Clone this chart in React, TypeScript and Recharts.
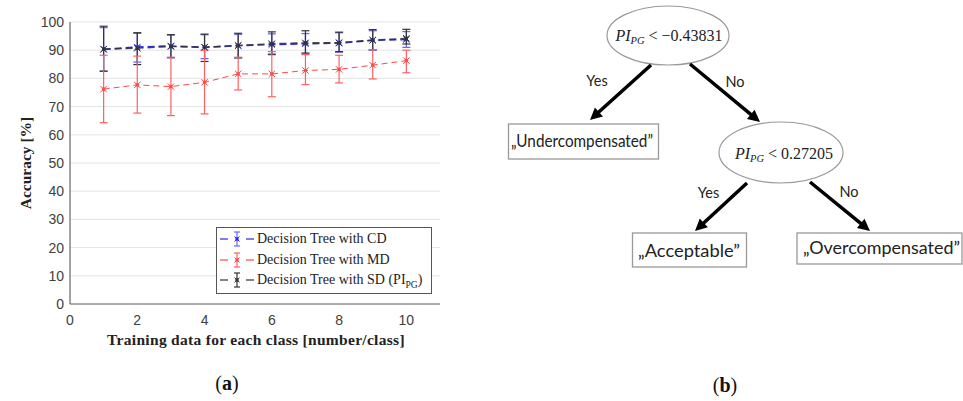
import React from 'react';
import {
  ComposedChart, Line, XAxis, YAxis, CartesianGrid, ErrorBar, Customized,
} from 'recharts';

// ---------- data ----------
const trainingCounts = [1, 2, 3, 4, 5, 6, 7, 8, 9, 10];

const cdMean = [90.3, 91.1, 91.5, 91.0, 91.6, 92.0, 92.3, 92.5, 93.5, 93.8];
const cdLow = [82.5, 85.8, 87.3, 87.0, 87.3, 88.4, 88.6, 89.3, 90.0, 91.0];
const cdHigh = [98.0, 96.0, 95.4, 95.5, 95.6, 95.8, 95.9, 96.2, 96.9, 96.6];

const mdMean = [76.2, 77.7, 77.1, 78.6, 81.6, 81.6, 82.8, 83.2, 84.7, 86.3];
const mdLow = [64.3, 67.7, 66.8, 67.4, 75.9, 73.5, 77.8, 78.4, 79.8, 82.0];
const mdHigh = [88.2, 87.9, 87.5, 90.0, 87.5, 89.5, 88.4, 88.2, 90.2, 90.0];

const sdMean = [90.4, 90.7, 91.3, 91.1, 91.7, 92.3, 92.6, 92.7, 93.6, 94.2];
const sdLow = [82.6, 84.9, 87.4, 86.0, 87.3, 88.6, 89.0, 89.5, 90.2, 92.2];
const sdHigh = [98.5, 96.2, 95.5, 95.7, 96.0, 96.5, 96.9, 96.4, 97.3, 97.4];

const xTicks = [0, 2, 4, 6, 8, 10];
const yTicks = [0, 10, 20, 30, 40, 50, 60, 70, 80, 90, 100];

const seriesNames = ['Decision Tree with CD', 'Decision Tree with MD', 'Decision Tree with SD'];

const treeRootCondition = '−0.43831';
const treeSecondCondition = '0.27205';
const treeLeaves = ['„Undercompensated”', '„Acceptable”', '„Overcompensated”'];

const data = trainingCounts.map((x, i) => ({
  x,
  cd: cdMean[i],
  cdErr: [cdMean[i] - cdLow[i], cdHigh[i] - cdMean[i]],
  md: mdMean[i],
  mdErr: [mdMean[i] - mdLow[i], mdHigh[i] - mdMean[i]],
  sd: sdMean[i],
  sdErr: [sdMean[i] - sdLow[i], sdHigh[i] - sdMean[i]],
}));

const BLUE = '#2a2ae0';
const BLUE_ERR = '#6a6aff';
const RED = '#ff4a4a';
const RED_ERR = '#ff6060';
const BLACK = '#333333';

const starDot = (color: string) => (props: any) => {
  const { cx, cy, index } = props;
  if (cx == null || cy == null) return <g key={`e-${index}`} />;
  const r = 3.2;
  return (
    <g key={`s-${color}-${index}`}>
      <line x1={cx - r} y1={cy - r} x2={cx + r} y2={cy + r} stroke={color} strokeWidth={1} />
      <line x1={cx - r} y1={cy + r} x2={cx + r} y2={cy - r} stroke={color} strokeWidth={1} />
      <rect x={cx - 1.6} y={cy - 1.6} width={3.2} height={3.2} fill={color} />
    </g>
  );
};

const LegendSymbol = ({ color, errColor }: { color: string; errColor: string }) => (
  <svg width={36} height={18} style={{ display: 'block' }}>
    <line x1={1} y1={9} x2={9} y2={9} stroke={color} strokeWidth={1.2} />
    <line x1={27} y1={9} x2={35} y2={9} stroke={color} strokeWidth={1.2} />
    <line x1={18} y1={2} x2={18} y2={16} stroke={errColor} strokeWidth={1.2} />
    <line x1={15} y1={2} x2={21} y2={2} stroke={errColor} strokeWidth={1.2} />
    <line x1={15} y1={16} x2={21} y2={16} stroke={errColor} strokeWidth={1.2} />
    <line x1={15.5} y1={6.5} x2={20.5} y2={11.5} stroke={color} strokeWidth={1} />
    <line x1={15.5} y1={11.5} x2={20.5} y2={6.5} stroke={color} strokeWidth={1} />
    <rect x={16.4} y={7.4} width={3.2} height={3.2} fill={color} />
  </svg>
);

const LegendBox = () => {
  const rows = [
    { color: BLUE, err: BLUE_ERR, label: <span>{seriesNames[0]}</span> },
    { color: RED, err: RED_ERR, label: <span>{seriesNames[1]}</span> },
    {
      color: BLACK, err: BLACK,
      label: (
        <span>
          {seriesNames[2]} (PI<span style={{ fontSize: 9.5, position: 'relative', top: 4 }}>PG</span>)
        </span>
      ),
    },
  ];
  return (
    <div style={{
      position: 'absolute', left: 216, top: 227, width: 216, height: 67,
      border: '1px solid #555', background: '#fff',
      fontFamily: '"Liberation Serif", serif', fontSize: 14, color: '#222',
      whiteSpace: 'nowrap', paddingTop: 1, boxSizing: 'border-box',
    }}>
      {rows.map((r, i) => (
        <div key={i} style={{ display: 'flex', alignItems: 'center', height: 20.5, lineHeight: '18px' }}>
          <div style={{ marginLeft: 2, marginRight: 2 }}><LegendSymbol color={r.color} errColor={r.err} /></div>
          {r.label}
        </div>
      ))}
    </div>
  );
};

const Arrow = ({ x1, y1, x2, y2 }: { x1: number; y1: number; x2: number; y2: number }) => {
  const dx = x2 - x1;
  const dy = y2 - y1;
  const len = Math.sqrt(dx * dx + dy * dy);
  const ux = dx / len;
  const uy = dy / len;
  const hl = 12;
  const hw = 6;
  const bx = x2 - ux * hl;
  const by = y2 - uy * hl;
  const px = -uy;
  const py = ux;
  return (
    <g>
      <line x1={x1} y1={y1} x2={bx + ux * 2} y2={by + uy * 2} stroke="#000" strokeWidth={3.5} />
      <polygon
        points={`${x2},${y2} ${bx + px * hw},${by + py * hw} ${bx - px * hw},${by - py * hw}`}
        fill="#000"
      />
    </g>
  );
};

const MathCond = ({ x, y, value }: { x: number; y: number; value: string }) => (
  <text x={x} y={y} textAnchor="middle" fontFamily='"Liberation Serif", serif' fontSize={16} fill="#222">
    <tspan fontStyle="italic">PI</tspan>
    <tspan fontStyle="italic" fontSize={10.5} dy={3}>PG</tspan>
    <tspan dy={-3}>{` < ${value}`}</tspan>
  </text>
);

const Overlay = () => {
  const sans = 'Lato, "Open Sans", sans-serif';
  return (
    <g>
      {/* axis titles */}
      <text
        x={0} y={0} transform="translate(31,163) rotate(-90)" textAnchor="middle"
        fontFamily='"Liberation Serif", serif' fontWeight="bold" fontSize={15.5} fill="#222"
      >Accuracy [%]</text>
      <text
        x={256} y={345} textAnchor="middle"
        fontFamily='"Liberation Serif", serif' fontWeight="bold" fontSize={15.5} fill="#222"
        letterSpacing={0.3}
      >Training data for each class [number/class]</text>

      {/* captions */}
      <text x={227} y={390} textAnchor="middle" fontFamily='"Liberation Serif", serif' fontSize={20} fill="#111">
        (<tspan fontWeight="bold">a</tspan>)
      </text>
      <text x={725} y={392} textAnchor="middle" fontFamily='"Liberation Serif", serif' fontSize={20} fill="#111">
        (<tspan fontWeight="bold">b</tspan>)
      </text>

      {/* decision tree */}
      <ellipse cx={668} cy={35.5} rx={61} ry={29.5} fill="#fff" stroke="#999" strokeWidth={1.2} />
      <MathCond x={669} y={41} value={treeRootCondition} />

      <Arrow x1={651} y1={65} x2={590} y2={120} />
      <Arrow x1={690} y1={64} x2={760} y2={122} />
      <text x={597} y={86} textAnchor="middle" fontFamily={sans} fontSize={14.5} fill="#222">Yes</text>
      <text x={735} y={87} textAnchor="middle" fontFamily={sans} fontSize={14.5} fill="#222">No</text>

      <rect x={508.5} y={124} width={150} height={35} fill="#fff" stroke="#999" strokeWidth={1.3} />
      <text x={582} y={147} textAnchor="middle" fontFamily={sans} fontSize={18} fill="#222"
        textLength={142} lengthAdjust="spacingAndGlyphs">{treeLeaves[0]}</text>

      <ellipse cx={781} cy={152.5} rx={62} ry={30.5} fill="#fff" stroke="#999" strokeWidth={1.2} />
      <MathCond x={784} y={159} value={treeSecondCondition} />

      <Arrow x1={747} y1={183} x2={695} y2={231} />
      <Arrow x1={810} y1={182} x2={870} y2={231} />
      <text x={708.5} y={198} textAnchor="middle" fontFamily={sans} fontSize={14.5} fill="#222">Yes</text>
      <text x={849} y={197} textAnchor="middle" fontFamily={sans} fontSize={14.5} fill="#222">No</text>

      <rect x={632.5} y={233} width={114} height={34} fill="#fff" stroke="#999" strokeWidth={1.3} />
      <text x={689} y={257} textAnchor="middle" fontFamily={sans} fontSize={18} fill="#222"
        textLength={102} lengthAdjust="spacingAndGlyphs">{treeLeaves[1]}</text>

      <rect x={797} y={233} width={165} height={31} fill="#fff" stroke="#999" strokeWidth={1.3} />
      <text x={881.5} y={254} textAnchor="middle" fontFamily={sans} fontSize={18} fill="#222"
        textLength={157} lengthAdjust="spacingAndGlyphs">{treeLeaves[2]}</text>
    </g>
  );
};

export default function App() {
  return (
    <div style={{ position: 'absolute', left: 0, top: 0, width: 963, height: 401, background: '#fff' }}>
      <ComposedChart
        width={963}
        height={401}
        data={data}
        margin={{ top: 22, right: 523, bottom: 67, left: 30 }}
      >
        <CartesianGrid horizontal vertical={false} stroke="#e4e4e4" strokeWidth={1} />
        <XAxis
          type="number" dataKey="x" domain={[0, 11]} ticks={xTicks} height={30}
          tickLine={false} tickSize={5} tickMargin={6} axisLine={{ stroke: '#666', strokeWidth: 1.2 }}
          tick={{ fontFamily: '"Liberation Sans", Arial, sans-serif', fontSize: 14, fill: '#404040' }}
          allowDataOverflow
        />
        <YAxis
          type="number" domain={[0, 100]} ticks={yTicks} width={40} interval={0}
          tickLine={false} tickSize={4} tickMargin={2} axisLine={{ stroke: '#666', strokeWidth: 1.2 }}
          tick={{ fontFamily: '"Liberation Sans", Arial, sans-serif', fontSize: 14, fill: '#404040' }}
        />
        <Line
          dataKey="cd" name={seriesNames[0]} stroke={BLUE} strokeWidth={1.6} strokeDasharray="7 4"
          dot={starDot(BLUE)} isAnimationActive={false} activeDot={false}
        >
          <ErrorBar dataKey="cdErr" width={4} stroke={BLUE_ERR} strokeWidth={1.3} isAnimationActive={false} />
        </Line>
        <Line
          dataKey="sd" name={seriesNames[2]} stroke={BLACK} strokeWidth={1.4} strokeDasharray="7 4"
          strokeOpacity={0.85}
          dot={starDot(BLACK)} isAnimationActive={false} activeDot={false}
        >
          <ErrorBar dataKey="sdErr" width={4} stroke={BLACK} strokeWidth={1.2} isAnimationActive={false} />
        </Line>
        <Line
          dataKey="md" name={seriesNames[1]} stroke={RED} strokeWidth={1} strokeDasharray="6 4"
          dot={starDot(RED)} isAnimationActive={false} activeDot={false}
        >
          <ErrorBar dataKey="mdErr" width={4} stroke={RED_ERR} strokeWidth={1.2} isAnimationActive={false} />
        </Line>
        <Customized component={Overlay} />
      </ComposedChart>
      <LegendBox />
    </div>
  );
}
